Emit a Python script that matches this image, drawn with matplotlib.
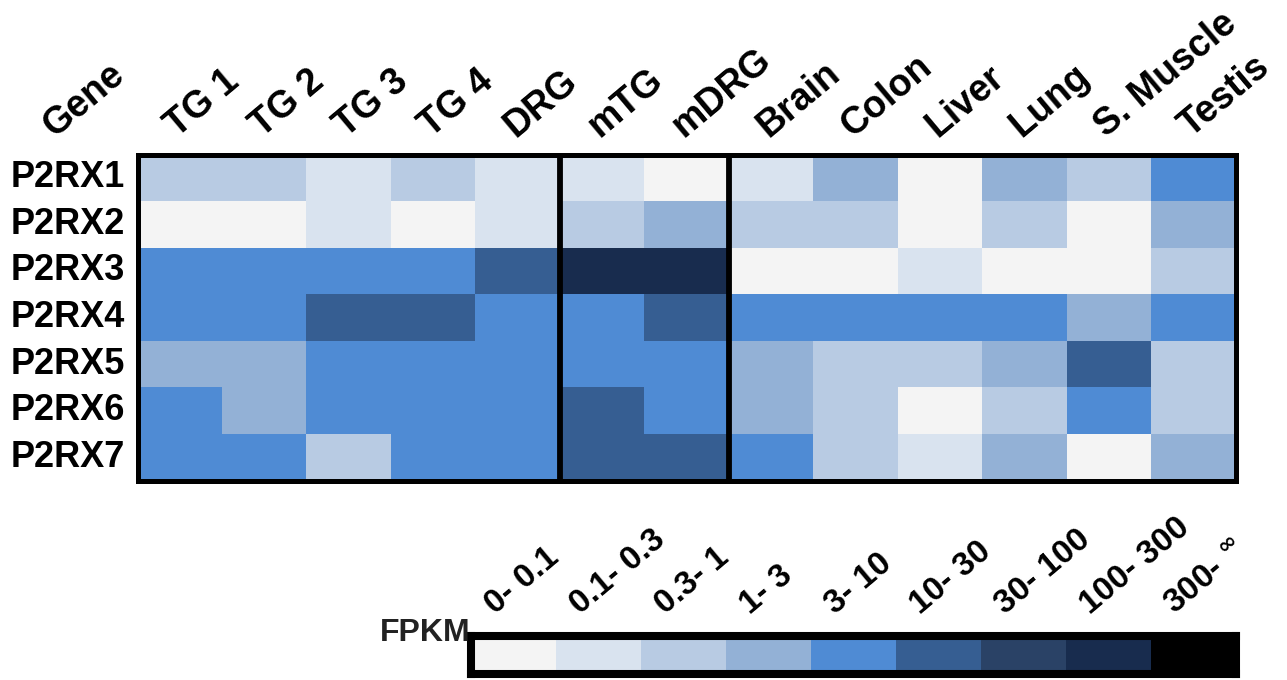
import numpy as np
import matplotlib
matplotlib.use("Agg")
import matplotlib.pyplot as plt
from matplotlib.colors import ListedColormap, BoundaryNorm
from matplotlib.transforms import blended_transform_factory

plt.rcParams['font.family'] = ['Liberation Sans', 'DejaVu Sans']
plt.rcParams['font.weight'] = 'bold'

genes = ["P2RX1", "P2RX2", "P2RX3", "P2RX4", "P2RX5", "P2RX6", "P2RX7"]
tissues = ["TG 1", "TG 2", "TG 3", "TG 4", "DRG", "mTG", "mDRG",
           "Brain", "Colon", "Liver", "Lung", "S. Muscle", "Testis"]
fpkm_bins = ["0- 0.1", "0.1- 0.3", "0.3- 1", "1- 3", "3- 10", "10- 30",
             "30- 100", "100- 300", "300- $^{\\infty}$"]

# expression bin index (0 = 0-0.1 ... 8 = 300-inf) per tissue
p2rx1 = [2, 2, 1, 2, 1, 1, 0, 1, 3, 0, 3, 2, 4]
p2rx2 = [0, 0, 1, 0, 1, 2, 3, 2, 2, 0, 2, 0, 3]
p2rx3 = [4, 4, 4, 4, 5, 7, 7, 0, 0, 1, 0, 0, 2]
p2rx4 = [4, 4, 5, 5, 4, 4, 5, 4, 4, 4, 4, 3, 4]
p2rx5 = [3, 3, 4, 4, 4, 4, 4, 3, 2, 2, 3, 5, 2]
p2rx6 = [4, 3, 4, 4, 4, 5, 4, 3, 2, 0, 2, 4, 2]
p2rx7 = [4, 4, 2, 4, 4, 5, 5, 4, 2, 1, 3, 0, 3]

group_breaks = [5, 7]

level_colors = ["#f4f4f4", "#d9e3ef", "#b8cbe3", "#93b1d6", "#4f8bd4",
                "#365e92", "#2a4266", "#182c4e", "#000000"]
cmap = ListedColormap(level_colors)
norm = BoundaryNorm(np.arange(-0.5, 9.5, 1), cmap.N)

data = np.array([p2rx1, p2rx2, p2rx3, p2rx4, p2rx5, p2rx6, p2rx7])

fig = plt.figure(figsize=(12.87, 6.80), dpi=100)

# main heatmap
ax = fig.add_axes([137.5 / 1287, 1 - 480.5 / 680, 1098 / 1287, 326 / 680])
ax.pcolormesh(np.arange(len(tissues) + 1), np.arange(len(genes) + 1), data,
              cmap=cmap, norm=norm)
ax.set_xlim(0, len(tissues))
ax.set_ylim(len(genes), 0)
ax.set_xticks([])
ax.set_yticks([])
for s in ax.spines.values():
    s.set_linewidth(3.6)
    s.set_color("black")
for b in group_breaks:
    ax.axvline(b, color="black", lw=4.2)

for i, g in enumerate(genes):
    ax.text(-0.15, i + 0.5, g, ha="right", va="center", fontsize=26,
            fontweight="bold")
for j, t in enumerate(tissues):
    ax.text(j + 0.47, -0.36, t, rotation=40, rotation_mode="anchor",
            ha="left", va="baseline", fontsize=27, fontweight="bold")
ax.text(-0.98, -0.36, "Gene", rotation=40, rotation_mode="anchor",
        ha="left", va="baseline", fontsize=27, fontweight="bold")

# legend bar
lax = fig.add_axes([471 / 1287, 1 - 674 / 680, 765 / 1287, 38 / 680])
lax.pcolormesh(np.arange(len(fpkm_bins) + 1), [0, 1],
               np.arange(len(fpkm_bins))[None, :], cmap=cmap, norm=norm)
lax.set_xlim(0, len(fpkm_bins))
lax.set_ylim(0, 1)
lax.set_xticks([])
lax.set_yticks([])
for s in lax.spines.values():
    s.set_linewidth(5.8)
    s.set_color("black")
trans = blended_transform_factory(lax.transData, lax.transAxes)
for k, lab in enumerate(fpkm_bins):
    lax.text(k + 0.28, 1.55, lab, rotation=40, rotation_mode="anchor",
             ha="left", va="baseline", fontsize=24, fontweight="bold",
             transform=trans)

fig.text(470 / 1287, 1 - 641 / 680, "FPKM", ha="right", va="baseline",
         fontsize=23, fontweight="bold", color="#222222")

fig.savefig("out.png", dpi=100)
